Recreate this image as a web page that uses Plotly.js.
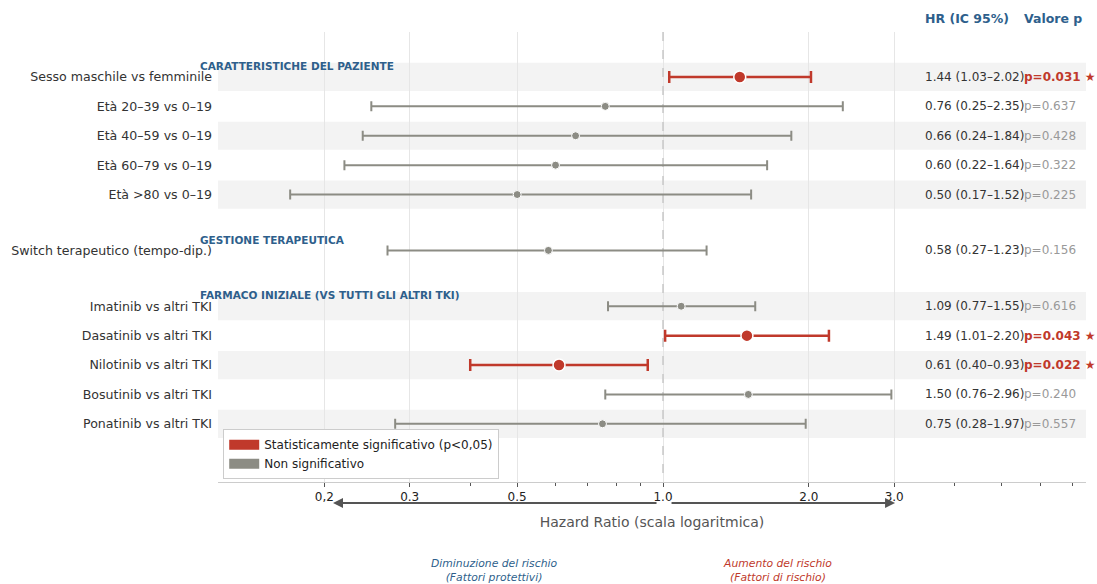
<!DOCTYPE html>
<html>
<head>
<meta charset="utf-8">
<script src="https://cdn.plot.ly/plotly-3.0.1.min.js"></script>
<style>
  html, body { margin: 0; padding: 0; background: #ffffff; }
  #chart { width: 1097px; height: 584px; }
</style>
</head>
<body>
<div id="chart"></div>
<script>
// Cox model results: hazard ratios with 95% confidence intervals
const groupTitles = [
  "CARATTERISTICHE DEL PAZIENTE",
  "GESTIONE TERAPEUTICA",
  "FARMACO INIZIALE (VS TUTTI GLI ALTRI TKI)"
];
const groupSizes = [5, 1, 5];

const labels = [
  "Sesso maschile vs femminile",
  "Età 20–39 vs 0–19",
  "Età 40–59 vs 0–19",
  "Età 60–79 vs 0–19",
  "Età >80 vs 0–19",
  "Switch terapeutico (tempo-dip.)",
  "Imatinib vs altri TKI",
  "Dasatinib vs altri TKI",
  "Nilotinib vs altri TKI",
  "Bosutinib vs altri TKI",
  "Ponatinib vs altri TKI"
];
const hr      = [1.44, 0.76, 0.66, 0.60, 0.50, 0.58, 1.09, 1.49, 0.61, 1.50, 0.75];
const ciLow   = [1.03, 0.25, 0.24, 0.22, 0.17, 0.27, 0.77, 1.01, 0.40, 0.76, 0.28];
const ciHigh  = [2.02, 2.35, 1.84, 1.64, 1.52, 1.23, 1.55, 2.20, 0.93, 2.96, 1.97];
const pValues = [0.031, 0.637, 0.428, 0.322, 0.225, 0.156, 0.616, 0.043, 0.022, 0.240, 0.557];

const xTickVals = [0.2, 0.3, 0.5, 1.0, 2.0, 3.0];
const xTickText = ["0,2", "0.3", "0.5", "1.0", "2.0", "3.0"];
const xMinorTicks = [0.4, 0.6, 0.7, 0.8, 0.9, 4, 5, 6, 7];

const ALPHA = 0.05;
const REF_HR = 1;

// Style
const RED = "#c0392b";
const GREY = "#8c8c84";
const BLUE = "#2e5f8c";
const FONT = "DejaVu Sans, Verdana, sans-serif";

// Vertical slots: one unit per row, extra space between groups
const GROUP_GAP = 0.9;
const ypos = [];
const groupHeaderY = [];
{
  let y = 0;
  groupSizes.forEach((n, g) => {
    if (g > 0) y += GROUP_GAP;
    groupHeaderY.push(y - 0.37);
    for (let i = 0; i < n; i++) { ypos.push(y); y += 1; }
  });
}
const yTop = -1.53, yBottom = ypos[ypos.length - 1] + 1.98;

function subset(sig) {
  const idx = hr.map((_, i) => i).filter(i => (pValues[i] < ALPHA) === sig);
  return {
    x: idx.map(i => hr[i]),
    y: idx.map(i => ypos[i]),
    plus: idx.map(i => ciHigh[i] - hr[i]),
    minus: idx.map(i => hr[i] - ciLow[i])
  };
}
const ns = subset(false), sg = subset(true);

const traces = [
  // reference line at HR = 1
  {
    type: "scatter", mode: "lines",
    x: [REF_HR, REF_HR], y: [yTop, yBottom],
    line: { color: "#c8c8c8", width: 1.5, dash: "dash" },
    hoverinfo: "skip", showlegend: false
  },
  {
    type: "scatter", mode: "markers",
    x: ns.x, y: ns.y,
    error_x: { type: "data", symmetric: false, array: ns.plus, arrayminus: ns.minus,
               color: GREY, thickness: 2, width: 5 },
    marker: { color: GREY, size: 8, line: { color: "#ffffff", width: 1 } },
    showlegend: false
  },
  {
    type: "scatter", mode: "markers",
    x: sg.x, y: sg.y,
    error_x: { type: "data", symmetric: false, array: sg.plus, arrayminus: sg.minus,
               color: RED, thickness: 2.5, width: 6 },
    marker: { color: RED, size: 12, line: { color: "#ffffff", width: 1.5 } },
    showlegend: false
  },
  // legend swatches
  {
    type: "scatter", mode: "lines", x: [null], y: [null],
    name: "Statisticamente significativo (p<0,05)",
    line: { color: RED, width: 10 }
  },
  {
    type: "scatter", mode: "lines", x: [null], y: [null],
    name: "Non significativo",
    line: { color: GREY, width: 10 }
  }
];

// Alternating row bands
const shapes = [];
ypos.forEach((y, i) => {
  if (i % 2 === 0) {
    shapes.push({
      type: "rect", xref: "paper", yref: "y", x0: 0, x1: 1,
      y0: y - 0.48, y1: y + 0.48,
      fillcolor: "#f3f3f3", line: { width: 0 }, layer: "below"
    });
  }
});

const annotations = [];
const COL_HR = 0.8122, COL_P = 0.9263;

annotations.push({
  xref: "paper", yref: "paper", x: COL_HR, y: 1.029, xanchor: "left", yanchor: "middle",
  text: "<b>HR (IC 95%)</b>", showarrow: false, font: { family: FONT, size: 12.5, color: BLUE }
});
annotations.push({
  xref: "paper", yref: "paper", x: COL_P, y: 1.029, xanchor: "left", yanchor: "middle",
  text: "<b>Valore p</b>", showarrow: false, font: { family: FONT, size: 12.5, color: BLUE }
});

groupTitles.forEach((t, g) => {
  annotations.push({
    xref: "paper", yref: "y", x: -0.0230, y: groupHeaderY[g], xanchor: "left", yanchor: "middle",
    text: "<b>" + t + "</b>", showarrow: false, font: { family: FONT, size: 10.5, color: BLUE }
  });
});

const fmt = v => v.toFixed(2);
hr.forEach((h, i) => {
  annotations.push({
    xref: "paper", yref: "y", x: COL_HR, y: ypos[i], xanchor: "left", yanchor: "middle",
    text: fmt(h) + " (" + fmt(ciLow[i]) + "–" + fmt(ciHigh[i]) + ")",
    showarrow: false, font: { family: FONT, size: 12, color: "#333333" }
  });
  const sig = pValues[i] < ALPHA;
  annotations.push({
    xref: "paper", yref: "y", x: COL_P, y: ypos[i], xanchor: "left", yanchor: "middle",
    text: sig ? "<b>p=" + pValues[i].toFixed(3) + " ★</b>" : "p=" + pValues[i].toFixed(3),
    showarrow: false, font: { family: FONT, size: 12, color: sig ? RED : "#999999" }
  });
});

// Direction arrows under the axis
annotations.push({
  xref: "paper", yref: "paper", x: 0.1325, y: -0.0467, ax: 325, ay: 0,
  text: "", showarrow: true, arrowhead: 2, arrowsize: 1, arrowwidth: 2, arrowcolor: "#555555"
});
annotations.push({
  xref: "paper", yref: "paper", x: 0.780, y: -0.0467, ax: -225, ay: 0,
  text: "", showarrow: true, arrowhead: 2, arrowsize: 1, arrowwidth: 2, arrowcolor: "#555555"
});

annotations.push({
  xref: "paper", yref: "paper", x: 0.318, y: -0.197, xanchor: "center", yanchor: "middle",
  text: "<i>Diminuzione del rischio<br>(Fattori protettivi)</i>", showarrow: false,
  font: { family: FONT, size: 10.8, color: BLUE }
});
annotations.push({
  xref: "paper", yref: "paper", x: 0.645, y: -0.197, xanchor: "center", yanchor: "middle",
  text: "<i>Aumento del rischio<br>(Fattori di rischio)</i>", showarrow: false,
  font: { family: FONT, size: 10.8, color: RED }
});

const layout = {
  width: 1097, height: 584,
  margin: { l: 218, r: 11, t: 32, b: 102 },
  paper_bgcolor: "#ffffff", plot_bgcolor: "#ffffff",
  font: { family: FONT, color: "#333333" },
  showlegend: true,
  legend: {
    x: 0.006, y: 0.006, xanchor: "left", yanchor: "bottom",
    bgcolor: "#ffffff", bordercolor: "#cccccc", borderwidth: 1,
    font: { family: FONT, size: 12, color: "#222222" },
    tracegroupgap: 0
  },
  xaxis: {
    type: "log",
    range: [-0.9185, 0.873],
    tickmode: "array", tickvals: xTickVals, ticktext: xTickText,
    ticks: "outside", ticklen: 4, tickcolor: "#555555", tickwidth: 1,
    tickfont: { family: FONT, size: 12, color: "#222222" },
    showline: true, linecolor: "#cccccc", linewidth: 1,
    showgrid: true, gridcolor: "#e6e6e6", gridwidth: 1,
    zeroline: false,
    minor: { tickmode: "array", tickvals: xMinorTicks, ticks: "outside", ticklen: 3,
             tickcolor: "#555555", showgrid: false },
    title: { text: "Hazard Ratio (scala logaritmica)", standoff: 13,
             font: { family: FONT, size: 14, color: "#555555" } }
  },
  yaxis: {
    range: [yBottom, yTop],
    tickmode: "array", tickvals: ypos, ticktext: labels,
    ticks: "", ticklabelstandoff: 5, showgrid: false, zeroline: false, showline: false,
    tickfont: { family: FONT, size: 12.6, color: "#333333" }
  },
  shapes: shapes,
  annotations: annotations
};

Plotly.newPlot("chart", traces, layout, { displayModeBar: false, responsive: false });
</script>
</body>
</html>
